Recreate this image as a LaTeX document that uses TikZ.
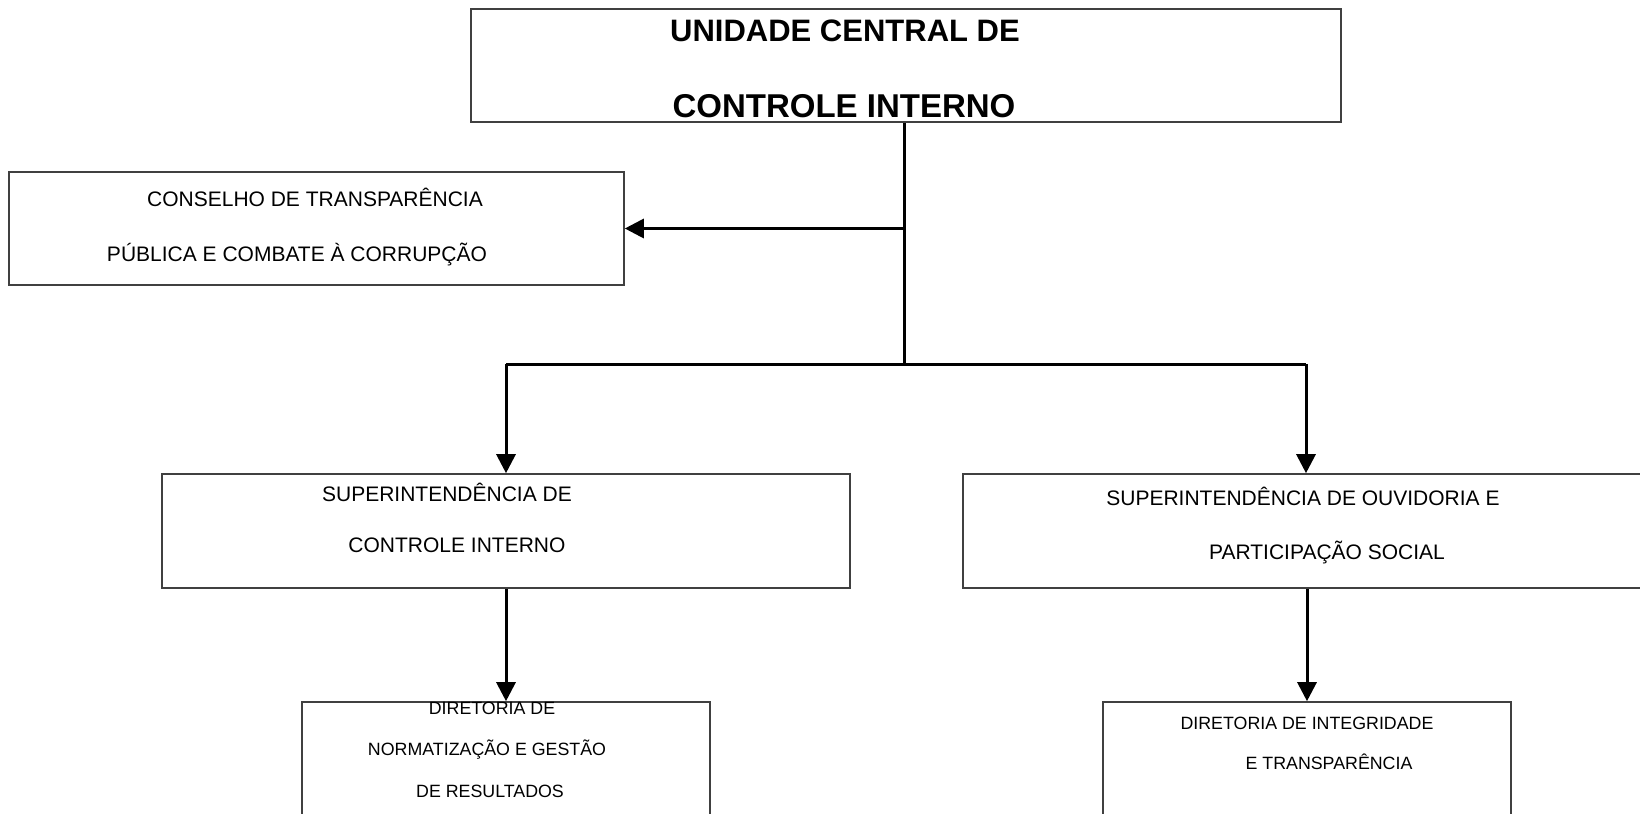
\documentclass[tikz,border=0pt]{standalone}
\usepackage{fontspec}
\setmainfont{Liberation Sans}
\usetikzlibrary{arrows.meta}
\begin{document}
\begin{tikzpicture}[x=0.5pt,y=-0.5pt,
  box/.style={draw=black!75,line width=0.8pt,inner sep=0pt},
  conn/.style={line width=1.5pt},
  arr/.style={conn,-{Triangle[length=9.5pt,width=9.5pt]}},
  title/.style={font=\fontsize{15.5}{18}\selectfont\bfseries,text height=11pt,text depth=0pt,inner sep=0pt},
  txt/.style={font=\fontsize{10.5}{12}\selectfont,text height=7.5pt,text depth=0pt,inner sep=0pt},
  small/.style={font=\fontsize{8.9}{10}\selectfont,text height=6.4pt,text depth=0pt,inner sep=0pt}]
\path[use as bounding box,clip] (0,0) rectangle (1640,814);
% boxes
\node[box,minimum width=435pt,minimum height=56.5pt] (ucci) at (906,65.5) {};
\node[box,minimum width=307.5pt,minimum height=56.5pt] (ctpcc) at (316.5,228.5) {};
\node[box,minimum width=344pt,minimum height=57pt] (sci) at (506,531) {};
\node[box,minimum width=368.5pt,minimum height=57pt] (sops) at (1331.5,531) {};
\node[box,minimum width=204pt,minimum height=84pt] (dngr) at (506,786) {};
\node[box,minimum width=204pt,minimum height=84pt] (dit) at (1307,786) {};
% texts
\node[title] (ucci1) at (845,30) {UNIDADE CENTRAL DE};
\node[title,font=\fontsize{16.5}{19}\selectfont\bfseries] (ucci2) at (844,106) {CONTROLE INTERNO};
\node[txt] (ctpcc1) at (315,199) {CONSELHO DE TRANSPARÊNCIA};
\node[txt] (ctpcc2) at (297,254) {PÚBLICA E COMBATE À CORRUPÇÃO};
\node[txt] (sci1) at (447,494) {SUPERINTENDÊNCIA DE};
\node[txt] (sci2) at (457,545) {CONTROLE INTERNO};
\node[txt] (sops1) at (1303,498) {SUPERINTENDÊNCIA DE OUVIDORIA E};
\node[txt] (sops2) at (1327,552) {PARTICIPAÇÃO SOCIAL};
\node[small] (dngr1) at (492,708) {DIRETORIA DE};
\node[small] (dngr2) at (487,749) {NORMATIZAÇÃO E GESTÃO};
\node[small] (dngr3) at (490,791) {DE RESULTADOS};
\node[small] (dit1) at (1307,723) {DIRETORIA DE INTEGRIDADE};
\node[small] (dit2) at (1329,763) {E TRANSPARÊNCIA};
% connectors
\coordinate (trunk) at (904,364);
\coordinate (fork) at (904,228.5);
\coordinate (barL) at (506,364);
\coordinate (barR) at (1306,364);
\draw[conn] (ucci.south -| trunk) -- (trunk);
\draw[arr] (fork) -- (ctpcc.east);
\draw[conn] (barL) -- (barR);
\draw[arr] (barL) -- (barL |- sci.north);
\draw[arr] (barR) -- (barR |- sops.north);
\draw[arr] (sci.south) -- (dngr.north);
\draw[arr] (sops.south -| dit.north) -- (dit.north);
\end{tikzpicture}
\end{document}
